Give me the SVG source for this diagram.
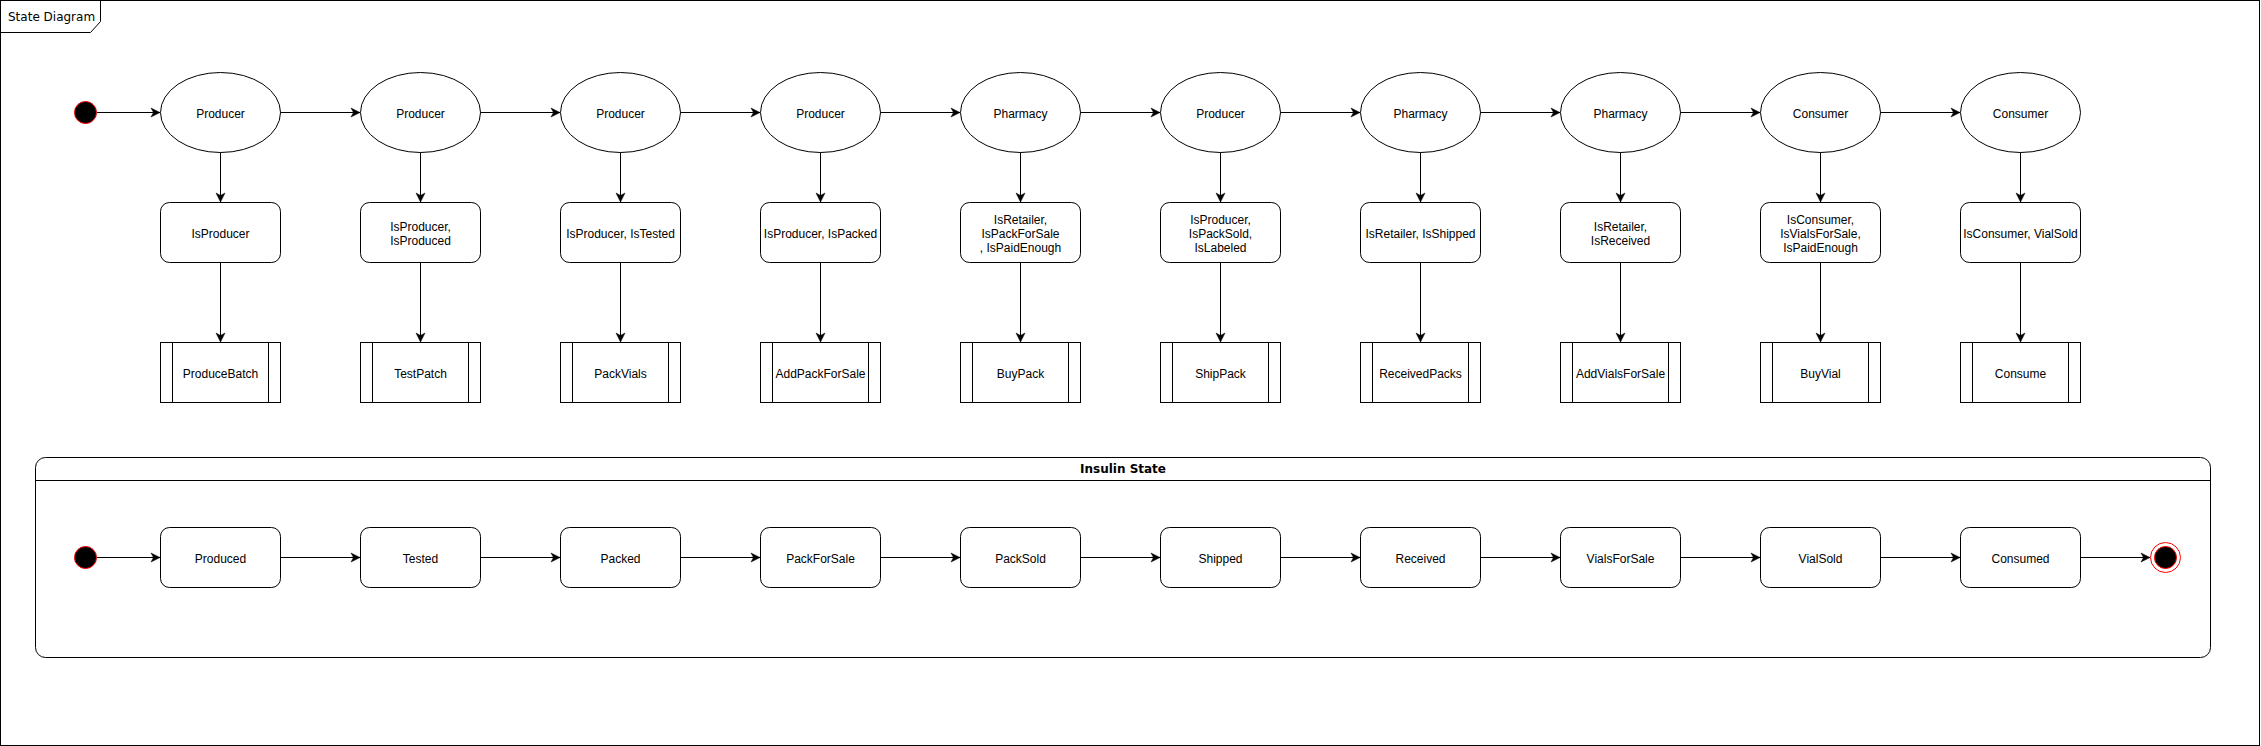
<svg xmlns="http://www.w3.org/2000/svg" width="2261" height="746" viewBox="0 0 2261 746">
<style>
.ln{fill:none;stroke:#000;stroke-width:1}
.sh{fill:#fff;stroke:#000;stroke-width:1}
.t{font-family:"Liberation Sans",Arial,Helvetica,sans-serif;font-size:12px;fill:#000;text-anchor:middle}
.init{fill:#000;stroke:#ff0000;stroke-width:1}
.ttl{font-family:"DejaVu Sans",Verdana,sans-serif;font-size:12px;fill:#000}
</style>
<defs>
<marker id="ah" markerUnits="userSpaceOnUse" markerWidth="12" markerHeight="12" viewBox="-10 -6 12 12" refX="0" refY="0" orient="auto">
<path d="M0,0 L-9,-4.5 L-6.5,0 L-9,4.5 Z" fill="#000" stroke="#000" stroke-width="0.5"/>
</marker>
</defs>
<rect width="2261" height="746" fill="#fff"/>
<g id="frame">
<rect x="0.5" y="0.5" width="2259" height="745" class="ln"/>
<path d="M0.5,32.5 H90.5 L100.5,21.5 V0.5" class="ln"/>
<text x="8" y="21" class="ttl">State Diagram</text>
</g>
<g id="container">
<rect x="35.5" y="457.5" width="2175" height="200" rx="10" ry="10" class="sh"/>
<line x1="35.5" y1="480.5" x2="2210.5" y2="480.5" class="ln"/>
<text x="1123" y="473" class="ttl" text-anchor="middle" font-weight="bold">Insulin State</text>
</g>
<g id="connectors">
<line x1="97" y1="112.5" x2="160" y2="112.5" class="ln" marker-end="url(#ah)"/>
<line x1="280" y1="112.5" x2="360" y2="112.5" class="ln" marker-end="url(#ah)"/>
<line x1="480" y1="112.5" x2="560" y2="112.5" class="ln" marker-end="url(#ah)"/>
<line x1="680" y1="112.5" x2="760" y2="112.5" class="ln" marker-end="url(#ah)"/>
<line x1="880" y1="112.5" x2="960" y2="112.5" class="ln" marker-end="url(#ah)"/>
<line x1="1080" y1="112.5" x2="1160" y2="112.5" class="ln" marker-end="url(#ah)"/>
<line x1="1280" y1="112.5" x2="1360" y2="112.5" class="ln" marker-end="url(#ah)"/>
<line x1="1480" y1="112.5" x2="1560" y2="112.5" class="ln" marker-end="url(#ah)"/>
<line x1="1680" y1="112.5" x2="1760" y2="112.5" class="ln" marker-end="url(#ah)"/>
<line x1="1880" y1="112.5" x2="1960" y2="112.5" class="ln" marker-end="url(#ah)"/>
<line x1="220.5" y1="152" x2="220.5" y2="202" class="ln" marker-end="url(#ah)"/>
<line x1="420.5" y1="152" x2="420.5" y2="202" class="ln" marker-end="url(#ah)"/>
<line x1="620.5" y1="152" x2="620.5" y2="202" class="ln" marker-end="url(#ah)"/>
<line x1="820.5" y1="152" x2="820.5" y2="202" class="ln" marker-end="url(#ah)"/>
<line x1="1020.5" y1="152" x2="1020.5" y2="202" class="ln" marker-end="url(#ah)"/>
<line x1="1220.5" y1="152" x2="1220.5" y2="202" class="ln" marker-end="url(#ah)"/>
<line x1="1420.5" y1="152" x2="1420.5" y2="202" class="ln" marker-end="url(#ah)"/>
<line x1="1620.5" y1="152" x2="1620.5" y2="202" class="ln" marker-end="url(#ah)"/>
<line x1="1820.5" y1="152" x2="1820.5" y2="202" class="ln" marker-end="url(#ah)"/>
<line x1="2020.5" y1="152" x2="2020.5" y2="202" class="ln" marker-end="url(#ah)"/>
<line x1="220.5" y1="262" x2="220.5" y2="342" class="ln" marker-end="url(#ah)"/>
<line x1="420.5" y1="262" x2="420.5" y2="342" class="ln" marker-end="url(#ah)"/>
<line x1="620.5" y1="262" x2="620.5" y2="342" class="ln" marker-end="url(#ah)"/>
<line x1="820.5" y1="262" x2="820.5" y2="342" class="ln" marker-end="url(#ah)"/>
<line x1="1020.5" y1="262" x2="1020.5" y2="342" class="ln" marker-end="url(#ah)"/>
<line x1="1220.5" y1="262" x2="1220.5" y2="342" class="ln" marker-end="url(#ah)"/>
<line x1="1420.5" y1="262" x2="1420.5" y2="342" class="ln" marker-end="url(#ah)"/>
<line x1="1620.5" y1="262" x2="1620.5" y2="342" class="ln" marker-end="url(#ah)"/>
<line x1="1820.5" y1="262" x2="1820.5" y2="342" class="ln" marker-end="url(#ah)"/>
<line x1="2020.5" y1="262" x2="2020.5" y2="342" class="ln" marker-end="url(#ah)"/>
<line x1="97" y1="557.5" x2="160" y2="557.5" class="ln" marker-end="url(#ah)"/>
<line x1="280" y1="557.5" x2="360" y2="557.5" class="ln" marker-end="url(#ah)"/>
<line x1="480" y1="557.5" x2="560" y2="557.5" class="ln" marker-end="url(#ah)"/>
<line x1="680" y1="557.5" x2="760" y2="557.5" class="ln" marker-end="url(#ah)"/>
<line x1="880" y1="557.5" x2="960" y2="557.5" class="ln" marker-end="url(#ah)"/>
<line x1="1080" y1="557.5" x2="1160" y2="557.5" class="ln" marker-end="url(#ah)"/>
<line x1="1280" y1="557.5" x2="1360" y2="557.5" class="ln" marker-end="url(#ah)"/>
<line x1="1480" y1="557.5" x2="1560" y2="557.5" class="ln" marker-end="url(#ah)"/>
<line x1="1680" y1="557.5" x2="1760" y2="557.5" class="ln" marker-end="url(#ah)"/>
<line x1="1880" y1="557.5" x2="1960" y2="557.5" class="ln" marker-end="url(#ah)"/>
<line x1="2080" y1="557.5" x2="2150" y2="557.5" class="ln" marker-end="url(#ah)"/>
</g>
<g id="start1"><circle cx="85.5" cy="112.5" r="11" class="init"/></g>
<g id="actor1"><ellipse cx="220.5" cy="112.5" rx="60" ry="40" class="sh"/><text x="220.5" y="117.5" class="t">Producer</text></g>
<g id="actor2"><ellipse cx="420.5" cy="112.5" rx="60" ry="40" class="sh"/><text x="420.5" y="117.5" class="t">Producer</text></g>
<g id="actor3"><ellipse cx="620.5" cy="112.5" rx="60" ry="40" class="sh"/><text x="620.5" y="117.5" class="t">Producer</text></g>
<g id="actor4"><ellipse cx="820.5" cy="112.5" rx="60" ry="40" class="sh"/><text x="820.5" y="117.5" class="t">Producer</text></g>
<g id="actor5"><ellipse cx="1020.5" cy="112.5" rx="60" ry="40" class="sh"/><text x="1020.5" y="117.5" class="t">Pharmacy</text></g>
<g id="actor6"><ellipse cx="1220.5" cy="112.5" rx="60" ry="40" class="sh"/><text x="1220.5" y="117.5" class="t">Producer</text></g>
<g id="actor7"><ellipse cx="1420.5" cy="112.5" rx="60" ry="40" class="sh"/><text x="1420.5" y="117.5" class="t">Pharmacy</text></g>
<g id="actor8"><ellipse cx="1620.5" cy="112.5" rx="60" ry="40" class="sh"/><text x="1620.5" y="117.5" class="t">Pharmacy</text></g>
<g id="actor9"><ellipse cx="1820.5" cy="112.5" rx="60" ry="40" class="sh"/><text x="1820.5" y="117.5" class="t">Consumer</text></g>
<g id="actor10"><ellipse cx="2020.5" cy="112.5" rx="60" ry="40" class="sh"/><text x="2020.5" y="117.5" class="t">Consumer</text></g>
<g id="guard1"><rect x="160.5" y="202.5" width="120" height="60" rx="9" class="sh"/><text x="220.5" y="237.5" class="t">IsProducer</text></g>
<g id="guard2"><rect x="360.5" y="202.5" width="120" height="60" rx="9" class="sh"/><text x="420.5" y="230.5" class="t">IsProducer,</text><text x="420.5" y="244.5" class="t">IsProduced</text></g>
<g id="guard3"><rect x="560.5" y="202.5" width="120" height="60" rx="9" class="sh"/><text x="620.5" y="237.5" class="t">IsProducer, IsTested</text></g>
<g id="guard4"><rect x="760.5" y="202.5" width="120" height="60" rx="9" class="sh"/><text x="820.5" y="237.5" class="t">IsProducer, IsPacked</text></g>
<g id="guard5"><rect x="960.5" y="202.5" width="120" height="60" rx="9" class="sh"/><text x="1020.5" y="223.5" class="t">IsRetailer,</text><text x="1020.5" y="237.5" class="t">IsPackForSale</text><text x="1020.5" y="251.5" class="t">, IsPaidEnough</text></g>
<g id="guard6"><rect x="1160.5" y="202.5" width="120" height="60" rx="9" class="sh"/><text x="1220.5" y="223.5" class="t">IsProducer,</text><text x="1220.5" y="237.5" class="t">IsPackSold,</text><text x="1220.5" y="251.5" class="t">IsLabeled</text></g>
<g id="guard7"><rect x="1360.5" y="202.5" width="120" height="60" rx="9" class="sh"/><text x="1420.5" y="237.5" class="t">IsRetailer, IsShipped</text></g>
<g id="guard8"><rect x="1560.5" y="202.5" width="120" height="60" rx="9" class="sh"/><text x="1620.5" y="230.5" class="t">IsRetailer,</text><text x="1620.5" y="244.5" class="t">IsReceived</text></g>
<g id="guard9"><rect x="1760.5" y="202.5" width="120" height="60" rx="9" class="sh"/><text x="1820.5" y="223.5" class="t">IsConsumer,</text><text x="1820.5" y="237.5" class="t">IsVialsForSale,</text><text x="1820.5" y="251.5" class="t">IsPaidEnough</text></g>
<g id="guard10"><rect x="1960.5" y="202.5" width="120" height="60" rx="9" class="sh"/><text x="2020.5" y="237.5" class="t">IsConsumer, VialSold</text></g>
<g id="proc1"><rect x="160.5" y="342.5" width="120" height="60" class="sh"/><path d="M172.5,342.5V402.5M268.5,342.5V402.5" class="ln"/><text x="220.5" y="377.5" class="t">ProduceBatch</text></g>
<g id="proc2"><rect x="360.5" y="342.5" width="120" height="60" class="sh"/><path d="M372.5,342.5V402.5M468.5,342.5V402.5" class="ln"/><text x="420.5" y="377.5" class="t">TestPatch</text></g>
<g id="proc3"><rect x="560.5" y="342.5" width="120" height="60" class="sh"/><path d="M572.5,342.5V402.5M668.5,342.5V402.5" class="ln"/><text x="620.5" y="377.5" class="t">PackVials</text></g>
<g id="proc4"><rect x="760.5" y="342.5" width="120" height="60" class="sh"/><path d="M772.5,342.5V402.5M868.5,342.5V402.5" class="ln"/><text x="820.5" y="377.5" class="t">AddPackForSale</text></g>
<g id="proc5"><rect x="960.5" y="342.5" width="120" height="60" class="sh"/><path d="M972.5,342.5V402.5M1068.5,342.5V402.5" class="ln"/><text x="1020.5" y="377.5" class="t">BuyPack</text></g>
<g id="proc6"><rect x="1160.5" y="342.5" width="120" height="60" class="sh"/><path d="M1172.5,342.5V402.5M1268.5,342.5V402.5" class="ln"/><text x="1220.5" y="377.5" class="t">ShipPack</text></g>
<g id="proc7"><rect x="1360.5" y="342.5" width="120" height="60" class="sh"/><path d="M1372.5,342.5V402.5M1468.5,342.5V402.5" class="ln"/><text x="1420.5" y="377.5" class="t">ReceivedPacks</text></g>
<g id="proc8"><rect x="1560.5" y="342.5" width="120" height="60" class="sh"/><path d="M1572.5,342.5V402.5M1668.5,342.5V402.5" class="ln"/><text x="1620.5" y="377.5" class="t">AddVialsForSale</text></g>
<g id="proc9"><rect x="1760.5" y="342.5" width="120" height="60" class="sh"/><path d="M1772.5,342.5V402.5M1868.5,342.5V402.5" class="ln"/><text x="1820.5" y="377.5" class="t">BuyVial</text></g>
<g id="proc10"><rect x="1960.5" y="342.5" width="120" height="60" class="sh"/><path d="M1972.5,342.5V402.5M2068.5,342.5V402.5" class="ln"/><text x="2020.5" y="377.5" class="t">Consume</text></g>
<g id="start2"><circle cx="85.5" cy="557.5" r="11" class="init"/></g>
<g id="state1"><rect x="160.5" y="527.5" width="120" height="60" rx="9" class="sh"/><text x="220.5" y="562.5" class="t">Produced</text></g>
<g id="state2"><rect x="360.5" y="527.5" width="120" height="60" rx="9" class="sh"/><text x="420.5" y="562.5" class="t">Tested</text></g>
<g id="state3"><rect x="560.5" y="527.5" width="120" height="60" rx="9" class="sh"/><text x="620.5" y="562.5" class="t">Packed</text></g>
<g id="state4"><rect x="760.5" y="527.5" width="120" height="60" rx="9" class="sh"/><text x="820.5" y="562.5" class="t">PackForSale</text></g>
<g id="state5"><rect x="960.5" y="527.5" width="120" height="60" rx="9" class="sh"/><text x="1020.5" y="562.5" class="t">PackSold</text></g>
<g id="state6"><rect x="1160.5" y="527.5" width="120" height="60" rx="9" class="sh"/><text x="1220.5" y="562.5" class="t">Shipped</text></g>
<g id="state7"><rect x="1360.5" y="527.5" width="120" height="60" rx="9" class="sh"/><text x="1420.5" y="562.5" class="t">Received</text></g>
<g id="state8"><rect x="1560.5" y="527.5" width="120" height="60" rx="9" class="sh"/><text x="1620.5" y="562.5" class="t">VialsForSale</text></g>
<g id="state9"><rect x="1760.5" y="527.5" width="120" height="60" rx="9" class="sh"/><text x="1820.5" y="562.5" class="t">VialSold</text></g>
<g id="state10"><rect x="1960.5" y="527.5" width="120" height="60" rx="9" class="sh"/><text x="2020.5" y="562.5" class="t">Consumed</text></g>
<g id="end"><circle cx="2165.5" cy="557.5" r="15" fill="#fff" stroke="#ff0000" stroke-width="1"/><circle cx="2165.5" cy="557.5" r="11" class="init"/></g>
</svg>
